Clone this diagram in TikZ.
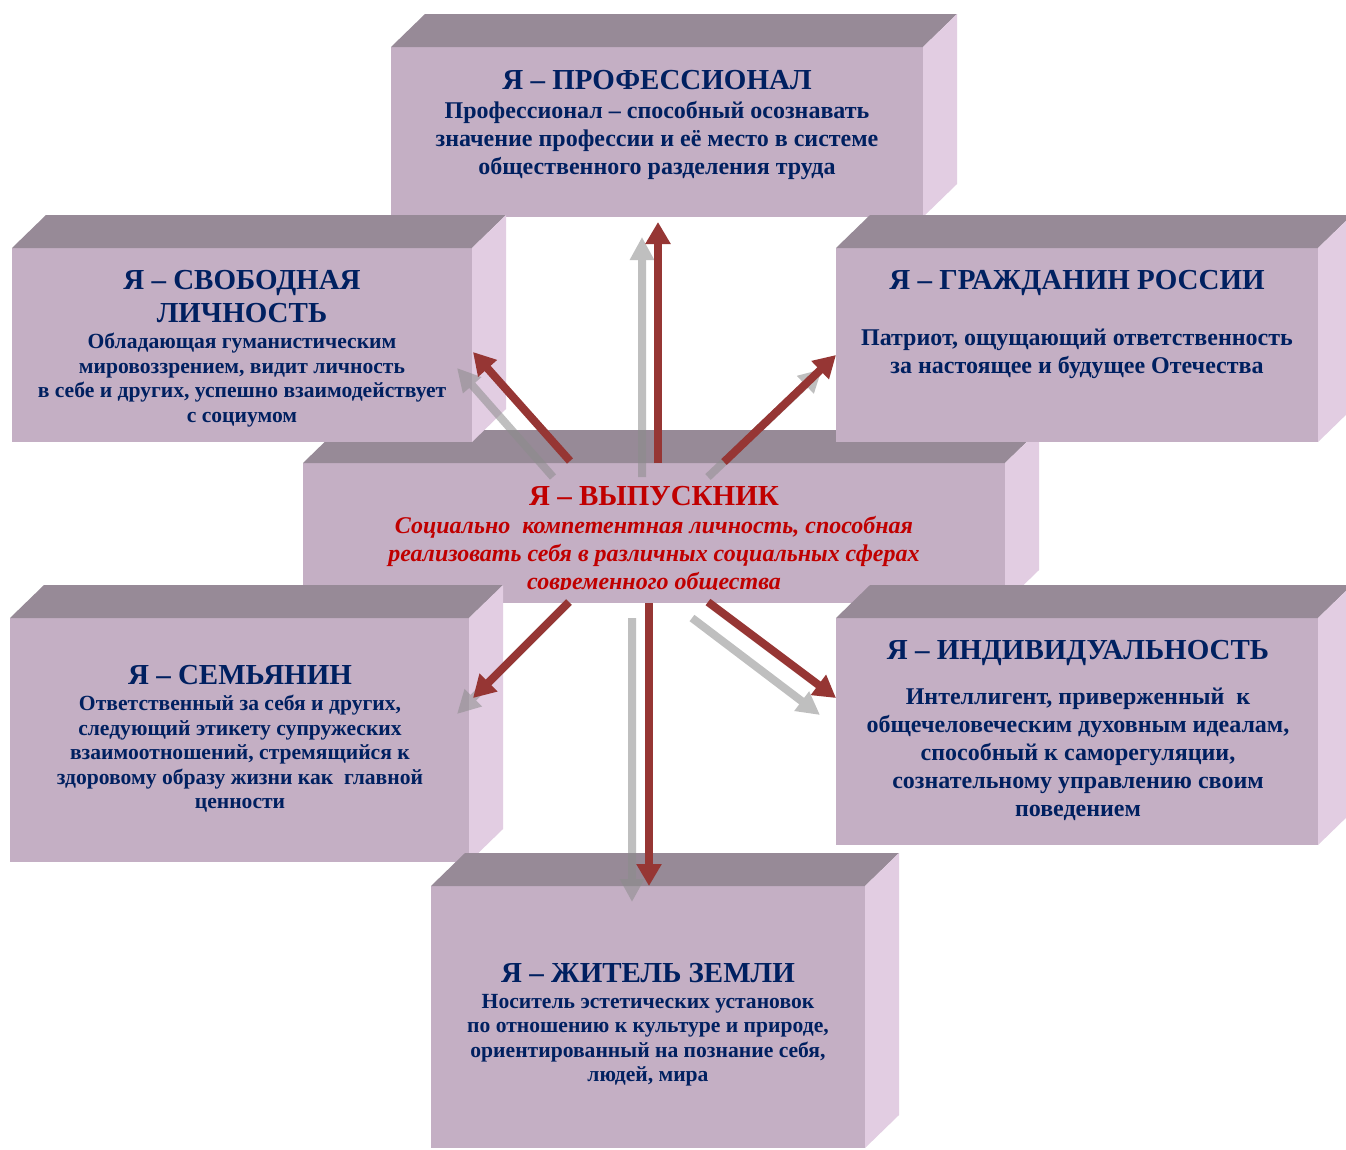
\documentclass[tikz,border=0pt]{standalone}
\usepackage{fontspec}
\setmainfont{Liberation Serif}
\usetikzlibrary{arrows.meta,calc}
\definecolor{frontc}{RGB}{196,175,196}
\definecolor{topc}{RGB}{151,138,151}
\definecolor{sidec}{RGB}{226,205,226}
\definecolor{navy}{RGB}{0,32,96}
\definecolor{redtxt}{RGB}{192,0,0}
\definecolor{arrred}{RGB}{150,54,52}
\definecolor{arrgray}{RGB}{140,140,140}
\tikzset{
  frontface/.style={rectangle, fill=frontc, draw=none, inner sep=0pt, outer sep=0pt, anchor=north west},
  ttl/.style={text=navy, font=\fontsize{29}{33}\selectfont\bfseries, align=center, inner sep=0pt, anchor=base},
  bodyA/.style={text=navy, font=\fontsize{24}{28}\selectfont\bfseries, align=center, inner sep=0pt},
  bodyB/.style={text=navy, font=\fontsize{21.6}{24.5}\selectfont\bfseries, align=center, inner sep=0pt},
  bodyR/.style={text=redtxt, font=\fontsize{24}{28}\selectfont\bfseries\itshape, align=center, inner sep=0pt},
  redarr/.style={draw=arrred, line width=8pt, -{Triangle[width=24pt,length=22pt]}},
  grayarr/.style={draw=arrgray, line width=8pt, -{Triangle[width=23pt,length=23pt]}}
}
\newcommand\cubebox[5]{%
  \node[frontface, minimum width=#4pt, minimum height=#5pt] (#1) at (#2,#3) {};
  \fill[topc] (#1.north west) -- ++(34,-33) -- ($(#1.north east)+(34,-33)$) -- (#1.north east) -- cycle;
  \fill[sidec] (#1.north east) -- ++(34,-33) -- ($(#1.south east)+(34,-33)$) -- (#1.south east) -- cycle;
}
\begin{document}
\begin{tikzpicture}[x=1pt,y=-1pt]
\useasboundingbox (0,0) rectangle (1346,1149);
\clip (0,0) rectangle (1346,1149);
\fill[white] (0,0) rectangle (1346,1149);
% boxes
\cubebox{grad}{303}{463}{702}{140}
\cubebox{prof}{391}{47}{532}{170}
\cubebox{free}{12}{248}{460}{194}
\cubebox{citizen}{836}{248}{482}{194}
\cubebox{family}{10}{618}{459}{244}
\cubebox{indiv}{836}{618}{482}{227}
\cubebox{earth}{431}{886}{434}{262}
% texts
\node[ttl] (t1) at (657,89) {Я – ПРОФЕССИОНАЛ};
\node[bodyA] (b1) at (657,140) {Профессионал – способный осознавать\\значение профессии и её место в системе\\общественного разделения труда};
\node[ttl] (t2) at (242,322) {Я – СВОБОДНАЯ\\ЛИЧНОСТЬ};
\node[bodyB] (b2) at (242,380) {Обладающая гуманистическим\\мировоззрением, видит личность\\в себе и других, успешно взаимодействует\\с социумом};
\node[ttl] (t3) at (1077,289) {Я – ГРАЖДАНИН РОССИИ};
\node[bodyA] (b3) at (1077,354) {Патриот, ощущающий ответственность\\за настоящее и будущее Отечества};
\node[ttl, text=redtxt] (t4) at (654,505) {Я – ВЫПУСКНИК};
\begin{scope}
\clip (303,463) rectangle (1005,589);
\node[bodyR] (b4) at (654,555) {Социально\ \ компетентная личность, способная\\реализовать себя в различных социальных сферах\\современного общества};
\end{scope}
\node[ttl] (t5) at (240,684) {Я – СЕМЬЯНИН};
\node[bodyB] (b5) at (240,754) {Ответственный за себя и других,\\следующий этикету супружеских\\взаимоотношений, стремящийся к\\здоровому образу жизни как\ \ главной\\ценности};
\node[ttl] (t6) at (1078,659) {Я – ИНДИВИДУАЛЬНОСТЬ};
\node[bodyA] (b6) at (1078,754) {Интеллигент, приверженный\ \ к\\общечеловеческим духовным идеалам,\\способный к саморегуляции,\\сознательному управлению своим\\поведением};
\node[ttl] (t7) at (648,982) {Я – ЖИТЕЛЬ ЗЕМЛИ};
\node[bodyB] (b7) at (648,1040) {Носитель эстетических установок\\по отношению к культуре и природе,\\ориентированный на познание себя,\\людей, мира};
% arrow end points
\coordinate (gUpS) at (642,477);  \coordinate (gUpE) at (642,237);
\coordinate (gULS) at (553,477);  \coordinate (gULE) at (457,368);
\coordinate (gURS) at (708,477);  \coordinate (gURE) at (822,369);
\coordinate (gLLS) at (569,602);  \coordinate (gLLE) at (457,714);
\coordinate (gDnS) at (632,618);  \coordinate (gDnE) at (632,902);
\coordinate (gLRS) at (692,618);  \coordinate (gLRE) at (820,715);
\coordinate (rUpS) at (658,463);  \coordinate (rUpE) at (658,222);
\coordinate (rULS) at (570,461);  \coordinate (rULE) at (473,352);
\coordinate (rURS) at (724,462);  \coordinate (rURE) at (836,355);
\coordinate (rLLS) at (569,602);  \coordinate (rLLE) at (473,698);
\coordinate (rDnS) at (649,603);  \coordinate (rDnE) at (649,886);
\coordinate (rLRS) at (708,602);  \coordinate (rLRE) at (836,698);
\begin{scope}[transparency group, opacity=0.55]
\draw[grayarr] (gUpS) -- (gUpE);
\draw[grayarr] (gULS) -- (gULE);
\draw[grayarr] (gURS) -- (gURE);
\draw[grayarr] (gLLS) -- (gLLE);
\draw[grayarr] (gDnS) -- (gDnE);
\draw[grayarr] (gLRS) -- (gLRE);
\end{scope}
\draw[redarr] (rUpS) -- (rUpE);
\draw[redarr] (rULS) -- (rULE);
\draw[redarr] (rURS) -- (rURE);
\draw[redarr] (rLLS) -- (rLLE);
\draw[redarr] (rDnS) -- (rDnE);
\draw[redarr] (rLRS) -- (rLRE);
\end{tikzpicture}
\end{document}
